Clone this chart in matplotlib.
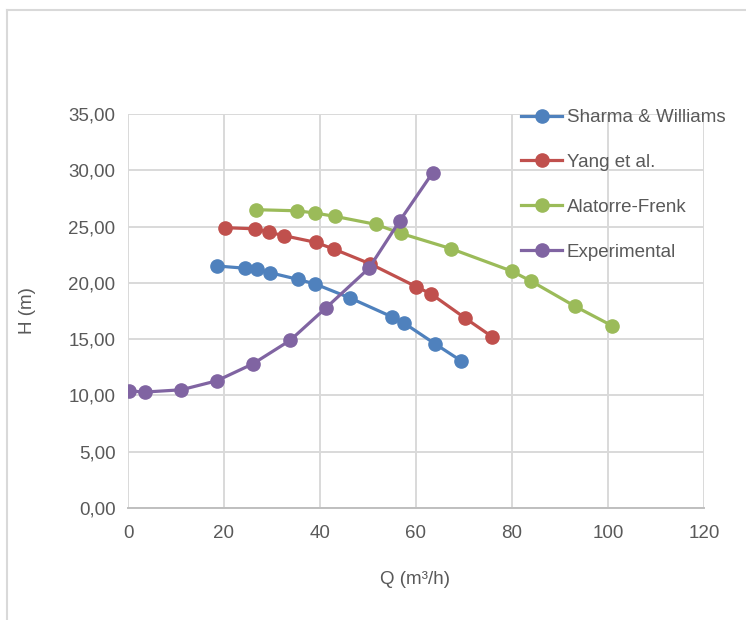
import matplotlib
matplotlib.use("Agg")
import matplotlib.pyplot as plt
from matplotlib.lines import Line2D
from matplotlib.ticker import FuncFormatter, MultipleLocator

plt.rcParams['font.family'] = ['Liberation Sans', 'DejaVu Sans']

# data
q_sharma = [18.5, 24.4, 26.8, 29.6, 35.5, 39.0, 46.3, 54.9, 57.6, 63.9, 69.3]
h_sharma = [21.5, 21.3, 21.2, 20.9, 20.3, 19.9, 18.65, 17.0, 16.4, 14.6, 13.1]

q_yang = [20.3, 26.5, 29.3, 32.4, 39.1, 42.9, 50.4, 60.1, 63.2, 70.3, 75.9]
h_yang = [24.9, 24.8, 24.5, 24.2, 23.6, 23.0, 21.7, 19.65, 19.0, 16.85, 15.2]

q_alatorre = [26.7, 35.3, 39.0, 43.2, 51.6, 56.8, 67.2, 79.9, 84.0, 93.2, 100.8]
h_alatorre = [26.5, 26.4, 26.2, 25.9, 25.2, 24.4, 23.05, 21.05, 20.15, 17.9, 16.2]

q_exp = [0.3, 3.5, 11.1, 18.5, 26.0, 33.8, 41.3, 50.2, 56.6, 63.5]
h_exp = [10.4, 10.3, 10.5, 11.3, 12.8, 14.9, 17.8, 21.3, 25.5, 29.8]

series = [
    ("Sharma & Williams", q_sharma, h_sharma, "#4F81BD"),
    ("Yang et al.", q_yang, h_yang, "#C0504D"),
    ("Alatorre-Frenk", q_alatorre, h_alatorre, "#9BBB59"),
    ("Experimental", q_exp, h_exp, "#8064A2"),
]

W, H = 746, 620
fig = plt.figure(figsize=(W / 100, H / 100), dpi=100)
ax = fig.add_axes([128 / W, (H - 508) / H, (704 - 128) / W, (508 - 114) / H])

for name, q, h, c in series:
    ax.plot(q, h, color=c, lw=2.3, marker='o', ms=9.5, label=name)

ax.set_xlim(0, 120)
ax.set_ylim(0, 35)
ax.xaxis.set_major_locator(MultipleLocator(20))
ax.yaxis.set_major_locator(MultipleLocator(5))
ax.yaxis.set_major_formatter(FuncFormatter(lambda v, p: f"{v:.2f}".replace('.', ',')))

ax.grid(True, color='#D9D9D9', lw=1.4)
ax.set_axisbelow(True)
for s in ['top', 'right', 'left']:
    ax.spines[s].set_visible(False)
ax.spines['bottom'].set_color('#BFBFBF')
ax.spines['bottom'].set_linewidth(1.4)
ax.tick_params(length=0, labelsize=13.5, labelcolor='#595959')
ax.tick_params(axis='x', pad=12)
ax.tick_params(axis='y', pad=9)

fig.text(415 / W, 1 - 580 / H, "Q (m³/h)", fontsize=13.5, color='#595959',
         ha='center', va='center')
fig.text(27 / W, 1 - 311 / H, "H (m)", fontsize=13.5, color='#595959',
         ha='center', va='center', rotation=90)

ax.legend(loc='upper left', bbox_to_anchor=(521 / W, 1 - 109 / H),
          bbox_transform=fig.transFigure, frameon=False, fontsize=13.5,
          labelcolor='#595959', handlelength=2.2, handletextpad=0.25,
          labelspacing=1.48, borderpad=0, borderaxespad=0)

# outer chart border
fig.add_artist(Line2D([7 / W, 1], [1 - 10 / H, 1 - 10 / H], color='#D9D9D9', lw=1.5,
                      transform=fig.transFigure))
fig.add_artist(Line2D([7 / W, 7 / W], [0, 1 - 10 / H], color='#D9D9D9', lw=1.5,
                      transform=fig.transFigure))

fig.savefig("out.png", dpi=100)
